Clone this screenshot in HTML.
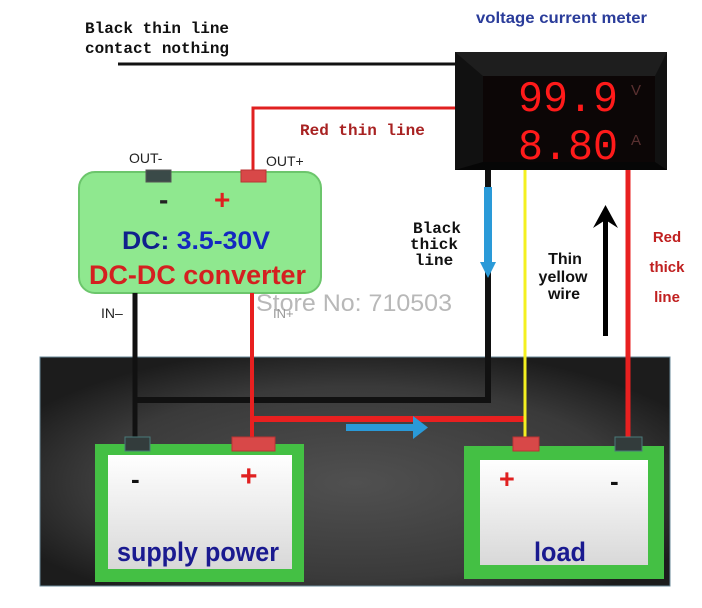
<!DOCTYPE html>
<html><head><meta charset="utf-8"><style>
html,body{margin:0;padding:0;background:#fff;}
svg{display:block;}
.mono{font-family:"Liberation Mono",monospace;font-weight:bold;}
.sans{font-family:"Liberation Sans",sans-serif;font-weight:bold;}
</style></head><body>
<svg width="702" height="608" viewBox="0 0 702 608" xmlns="http://www.w3.org/2000/svg">
<defs>
<radialGradient id="pg" cx="0.5" cy="0.55" r="0.6">
<stop offset="0" stop-color="#505050"/><stop offset="0.7" stop-color="#3a3a3a"/><stop offset="1" stop-color="#1c1c1c"/>
</radialGradient>
<linearGradient id="wg" x1="0" y1="0" x2="0" y2="1">
<stop offset="0" stop-color="#ffffff"/><stop offset="1" stop-color="#d8d8d8"/>
</linearGradient>
</defs>
<rect width="702" height="608" fill="#fff"/>
<rect x="40" y="357" width="630" height="229" fill="url(#pg)" stroke="#6a8a9a" stroke-width="1"/>

<text class="mono" x="85" y="33" font-size="16" fill="#111">Black thin line</text>
<text class="mono" x="85" y="53" font-size="16" fill="#111">contact nothing</text>
<line x1="118" y1="64" x2="457" y2="64" stroke="#111" stroke-width="3"/>
<text class="sans" x="476" y="23" font-size="16" fill="#2a3c9a" textLength="171" lengthAdjust="spacingAndGlyphs">voltage  current meter</text>

<polyline points="457,108 253,108 253,172" fill="none" stroke="#e02020" stroke-width="3"/>
<text class="mono" x="300" y="135" font-size="16" fill="#a82222">Red thin line</text>

<rect x="455" y="52" width="212" height="118" fill="#111"/>
<polygon points="455,52 667,52 655,76 483,76" fill="#1e1e1e"/>
<polygon points="455,170 667,170 655,162 483,162" fill="#060606"/>
<rect x="483" y="76" width="172" height="86" fill="#0c0606"/>
<text x="518" y="111" font-family="Liberation Mono,monospace" font-size="44" fill="#ff1a1a" textLength="100" lengthAdjust="spacingAndGlyphs">99.9</text>
<text x="518" y="159" font-family="Liberation Mono,monospace" font-size="44" fill="#ff1a1a" textLength="100" lengthAdjust="spacingAndGlyphs">8.80</text>
<text x="631" y="95" font-family="Liberation Sans,sans-serif" font-size="15" fill="#5a3030">V</text>
<text x="631" y="145" font-family="Liberation Sans,sans-serif" font-size="15" fill="#5a3030">A</text>

<text x="129" y="163" font-family="Liberation Sans,sans-serif" font-size="14" fill="#222">OUT-</text>
<text x="266" y="166" font-family="Liberation Sans,sans-serif" font-size="14" fill="#222">OUT+</text>
<rect x="79" y="172" width="242" height="121" rx="16" fill="#8fe88f" stroke="#6cc66c" stroke-width="2"/>
<rect x="146" y="170" width="25" height="12" fill="#3a4a48" stroke="#555" />
<rect x="241" y="170" width="25" height="12" fill="#d84848" stroke="#b33"/>
<text class="sans" x="159" y="209" font-size="28" fill="#222">-</text>
<text class="sans" x="214" y="209" font-size="28" fill="#e02020">+</text>
<text class="sans" x="122" y="249" font-size="25" fill="#1428c0" textLength="148" lengthAdjust="spacingAndGlyphs"><tspan fill="#10208c">DC:</tspan> 3.5-30V</text>
<text class="sans" x="89" y="284" font-size="27" fill="#d42020" textLength="217" lengthAdjust="spacingAndGlyphs">DC-DC converter</text>
<text x="256" y="311" font-family="Liberation Sans,sans-serif" font-size="24" fill="#b8b8b8" textLength="196" lengthAdjust="spacingAndGlyphs">Store No: 710503</text>
<text x="101" y="318" font-family="Liberation Sans,sans-serif" font-size="14" fill="#222">IN–</text>
<text x="273" y="318" font-family="Liberation Sans,sans-serif" font-size="13" fill="#999">IN+</text>

<polyline points="135,293 135,438" fill="none" stroke="#111" stroke-width="5"/>
<polyline points="135,400 488,400 488,170" fill="none" stroke="#111" stroke-width="6"/>
<polyline points="252,293 252,438" fill="none" stroke="#e82020" stroke-width="4"/>
<polyline points="252,419 525,419" fill="none" stroke="#e82020" stroke-width="6"/>
<line x1="525" y1="170" x2="525" y2="438" stroke="#f4f020" stroke-width="3"/>
<line x1="628" y1="170" x2="628" y2="438" stroke="#e82020" stroke-width="5"/>
<rect x="484" y="187" width="8" height="77" fill="#2a9ad8"/>
<polygon points="480,262 496,262 488,278" fill="#2a9ad8"/>
<rect x="346" y="424" width="70" height="7" fill="#2a9ad8"/>
<polygon points="413,416 428,427.5 413,439" fill="#2a9ad8"/>
<rect x="603" y="218" width="5" height="118" fill="#000"/>
<polygon points="593,228 605.5,205 618,228 605.5,220" fill="#000"/>

<text class="mono" x="437" y="233" font-size="16" fill="#111" text-anchor="middle">Black</text>
<text class="mono" x="434" y="249" font-size="16" fill="#111" text-anchor="middle">thick</text>
<text class="mono" x="434" y="265" font-size="16" fill="#111" text-anchor="middle">line</text>
<text class="sans" x="565" y="264" font-size="16" fill="#111" text-anchor="middle">Thin</text>
<text class="sans" x="563" y="282" font-size="16" fill="#111" text-anchor="middle">yellow</text>
<text class="sans" x="564" y="299" font-size="16" fill="#111" text-anchor="middle">wire</text>
<text class="sans" x="667" y="242" font-size="15" fill="#c02020" text-anchor="middle">Red</text>
<text class="sans" x="667" y="272" font-size="15" fill="#c02020" text-anchor="middle">thick</text>
<text class="sans" x="667" y="302" font-size="15" fill="#c02020" text-anchor="middle">line</text>

<rect x="95" y="444" width="209" height="138" fill="#44c044"/>
<rect x="108" y="455" width="184" height="114" fill="url(#wg)"/>
<rect x="125" y="437" width="25" height="14" fill="#333c3c" stroke="#4a7a7a"/>
<rect x="232" y="437" width="43" height="14" fill="#d84848" stroke="#b33"/>
<text class="sans" x="131" y="488" font-size="26" fill="#111">-</text>
<text class="sans" x="240" y="486" font-size="30" fill="#e02020">+</text>
<text class="sans" x="117" y="561" font-size="27" fill="#1a1a90" textLength="162" lengthAdjust="spacingAndGlyphs">supply power</text>

<rect x="464" y="446" width="200" height="133" fill="#44c044"/>
<rect x="480" y="460" width="168" height="105" fill="url(#wg)"/>
<rect x="513" y="437" width="26" height="14" fill="#d84848" stroke="#b33"/>
<rect x="615" y="437" width="27" height="14" fill="#333c3c" stroke="#4a7a7a"/>
<text class="sans" x="499" y="488" font-size="27" fill="#e02020">+</text>
<text class="sans" x="610" y="490" font-size="26" fill="#111">-</text>
<text class="sans" x="560" y="561" font-size="27" fill="#1a1a90" text-anchor="middle" textLength="52" lengthAdjust="spacingAndGlyphs">load</text>
</svg>
</body></html>
